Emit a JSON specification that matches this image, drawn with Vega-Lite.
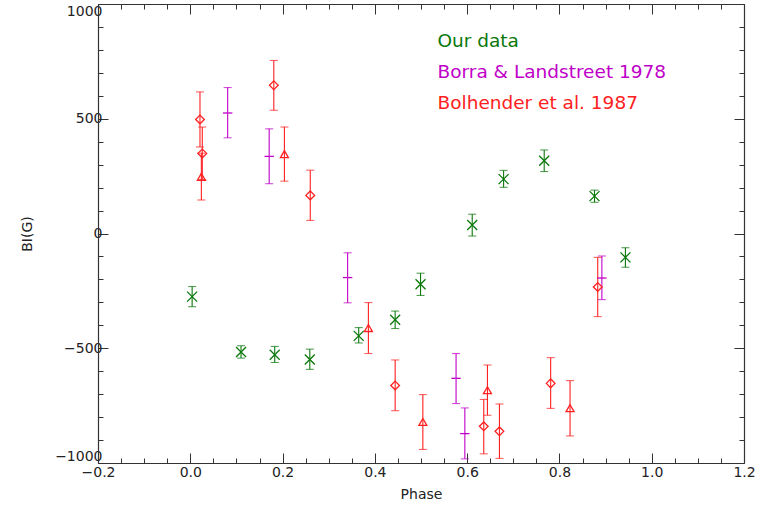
{
  "$schema": "https://vega.github.io/schema/vega-lite/v6.json",
  "width": 646,
  "height": 459,
  "autosize": {"type": "none"},
  "padding": {"left": 98, "top": 4, "right": 15, "bottom": 52},
  "background": "white",
  "config": {
    "view": {"stroke": null},
    "axis": {
      "grid": false,
      "domainColor": "#333333",
      "tickColor": "#333333",
      "labelColor": "#222222",
      "titleColor": "#222222",
      "labelFont": "DejaVu Sans",
      "titleFont": "DejaVu Sans",
      "labelFontSize": 14,
      "titleFontSize": 14,
      "titleFontWeight": "normal",
      "tickWidth": 1,
      "domainWidth": 1.2
    }
  },
  "data": {
    "values": [
      {"series": "Our data", "marker": "x", "phase": 0.004, "b": -275, "lo": -319, "hi": -231},
      {"series": "Our data", "marker": "x", "phase": 0.110, "b": -516, "lo": -543, "hi": -489},
      {"series": "Our data", "marker": "x", "phase": 0.183, "b": -528, "lo": -562, "hi": -492},
      {"series": "Our data", "marker": "x", "phase": 0.259, "b": -549, "lo": -592, "hi": -504},
      {"series": "Our data", "marker": "x", "phase": 0.365, "b": -446, "lo": -477, "hi": -410},
      {"series": "Our data", "marker": "x", "phase": 0.444, "b": -376, "lo": -414, "hi": -338},
      {"series": "Our data", "marker": "x", "phase": 0.499, "b": -221, "lo": -270, "hi": -173},
      {"series": "Our data", "marker": "x", "phase": 0.611, "b": 37, "lo": -11, "hi": 84},
      {"series": "Our data", "marker": "x", "phase": 0.679, "b": 237, "lo": 201, "hi": 275},
      {"series": "Our data", "marker": "x", "phase": 0.767, "b": 317, "lo": 270, "hi": 364},
      {"series": "Our data", "marker": "x", "phase": 0.876, "b": 163, "lo": 136, "hi": 189},
      {"series": "Our data", "marker": "x", "phase": 0.943, "b": -104, "lo": -147, "hi": -62},
      {"series": "Borra & Landstreet 1978", "marker": "plus", "phase": 0.081, "b": 525, "lo": 417, "hi": 636},
      {"series": "Borra & Landstreet 1978", "marker": "plus", "phase": 0.171, "b": 336, "lo": 217, "hi": 456},
      {"series": "Borra & Landstreet 1978", "marker": "plus", "phase": 0.341, "b": -192, "lo": -302, "hi": -84},
      {"series": "Borra & Landstreet 1978", "marker": "plus", "phase": 0.576, "b": -631, "lo": -741, "hi": -523},
      {"series": "Borra & Landstreet 1978", "marker": "plus", "phase": 0.595, "b": -872, "lo": -982, "hi": -760},
      {"series": "Borra & Landstreet 1978", "marker": "plus", "phase": 0.892, "b": -194, "lo": -288, "hi": -98},
      {"series": "Bolhender et al. 1987", "marker": "diamond", "phase": 0.021, "b": 497, "lo": 377, "hi": 617},
      {"series": "Bolhender et al. 1987", "marker": "diamond", "phase": 0.026, "b": 349, "lo": 235, "hi": 464},
      {"series": "Bolhender et al. 1987", "marker": "diamond", "phase": 0.181, "b": 646, "lo": 537, "hi": 754},
      {"series": "Bolhender et al. 1987", "marker": "diamond", "phase": 0.260, "b": 166, "lo": 57, "hi": 276},
      {"series": "Bolhender et al. 1987", "marker": "diamond", "phase": 0.444, "b": -662, "lo": -772, "hi": -551},
      {"series": "Bolhender et al. 1987", "marker": "diamond", "phase": 0.636, "b": -840, "lo": -960, "hi": -723},
      {"series": "Bolhender et al. 1987", "marker": "diamond", "phase": 0.670, "b": -862, "lo": -980, "hi": -743},
      {"series": "Bolhender et al. 1987", "marker": "diamond", "phase": 0.781, "b": -653, "lo": -762, "hi": -541},
      {"series": "Bolhender et al. 1987", "marker": "diamond", "phase": 0.883, "b": -233, "lo": -362, "hi": -104},
      {"series": "Bolhender et al. 1987", "marker": "triangle", "phase": 0.024, "b": 247, "lo": 146, "hi": 350},
      {"series": "Bolhender et al. 1987", "marker": "triangle", "phase": 0.204, "b": 346, "lo": 228, "hi": 464},
      {"series": "Bolhender et al. 1987", "marker": "triangle", "phase": 0.386, "b": -412, "lo": -523, "hi": -301},
      {"series": "Bolhender et al. 1987", "marker": "triangle", "phase": 0.504, "b": -821, "lo": -941, "hi": -702},
      {"series": "Bolhender et al. 1987", "marker": "triangle", "phase": 0.644, "b": -683, "lo": -792, "hi": -573},
      {"series": "Bolhender et al. 1987", "marker": "triangle", "phase": 0.823, "b": -761, "lo": -882, "hi": -641}
    ]
  },
  "resolve": {"axis": {"x": "independent", "y": "independent"}},
  "layer": [
    {
      "mark": {"type": "rule", "strokeWidth": 1.1},
      "encoding": {
        "x": {
          "field": "phase", "type": "quantitative",
          "scale": {"domain": [-0.2, 1.2], "nice": false, "zero": false},
          "axis": {"orient": "bottom", "values": [-0.2, 0, 0.2, 0.4, 0.6, 0.8, 1.0, 1.2], "format": ".1f", "tickSize": -10, "labelPadding": 12, "title": "Phase", "titlePadding": 8, "labelFlush": false}
        },
        "y": {
          "field": "lo", "type": "quantitative",
          "scale": {"domain": [-1000, 1000], "nice": false, "zero": false},
          "axis": {"orient": "left", "values": [-1000, -500, 0, 500, 1000], "format": "d", "tickSize": -10, "labelPadding": 6, "labelFlush": true, "title": "BI(G)", "titlePadding": 20}
        },
        "y2": {"field": "hi"},
        "color": {
          "field": "series", "type": "nominal",
          "scale": {"domain": ["Our data", "Borra & Landstreet 1978", "Bolhender et al. 1987"], "range": ["#0a780a", "#c000c8", "#ff2020"]},
          "legend": {
            "orient": "none",
            "legendX": 321,
            "legendY": 28,
            "title": null,
            "symbolSize": 0,
            "symbolOpacity": 0,
            "symbolStrokeWidth": 0,
            "labelOffset": 0,
            "labelLimit": 0,
            "labelFont": "DejaVu Sans",
            "labelFontSize": 18.5,
            "rowPadding": 12,
            "padding": 0,
            "encode": {"labels": {"update": {"fill": {"scale": "color", "field": "value"}}}}
          }
        }
      }
    },
    {
      "mark": {"type": "tick", "orient": "horizontal", "size": 8, "thickness": 1.1},
      "encoding": {
        "x": {
          "field": "phase", "type": "quantitative",
          "axis": {"orient": "bottom", "values": [-0.15, -0.1, -0.05, 0.05, 0.1, 0.15, 0.25, 0.3, 0.35, 0.45, 0.5, 0.55, 0.65, 0.7, 0.75, 0.85, 0.9, 0.95, 1.05, 1.1, 1.15], "tickSize": -5, "labels": false, "domain": false, "title": null}
        },
        "y": {
          "field": "lo", "type": "quantitative",
          "axis": {"orient": "left", "values": [-900, -800, -700, -600, -400, -300, -200, -100, 100, 200, 300, 400, 600, 700, 800, 900], "tickSize": -5, "labels": false, "domain": false, "title": null}
        },
        "color": {"field": "series", "type": "nominal"}
      }
    },
    {
      "mark": {"type": "tick", "orient": "horizontal", "size": 8, "thickness": 1.1},
      "encoding": {
        "x": {
          "field": "phase", "type": "quantitative",
          "axis": {"orient": "top", "values": [-0.2, 0, 0.2, 0.4, 0.6, 0.8, 1.0, 1.2], "tickSize": -10, "labels": false, "title": null}
        },
        "y": {
          "field": "hi", "type": "quantitative",
          "axis": {"orient": "right", "values": [-1000, -500, 0, 500, 1000], "tickSize": -10, "labels": false, "title": null}
        },
        "color": {"field": "series", "type": "nominal"}
      }
    },
    {
      "mark": {"type": "point", "filled": false, "strokeWidth": 1.3, "opacity": 1},
      "encoding": {
        "x": {
          "field": "phase", "type": "quantitative",
          "axis": {"orient": "top", "values": [-0.15, -0.1, -0.05, 0.05, 0.1, 0.15, 0.25, 0.3, 0.35, 0.45, 0.5, 0.55, 0.65, 0.7, 0.75, 0.85, 0.9, 0.95, 1.05, 1.1, 1.15], "tickSize": -5, "labels": false, "domain": false, "title": null}
        },
        "y": {
          "field": "b", "type": "quantitative",
          "axis": {"orient": "right", "values": [-900, -800, -700, -600, -400, -300, -200, -100, 100, 200, 300, 400, 600, 700, 800, 900], "tickSize": -5, "labels": false, "domain": false, "title": null}
        },
        "shape": {
          "field": "marker", "type": "nominal",
          "scale": {"domain": ["x", "plus", "diamond", "triangle"], "range": ["M-1,-1L1,1M-1,1L1,-1", "M-1,0L1,0", "diamond", "triangle-up"]},
          "legend": null
        },
        "size": {
          "field": "marker", "type": "nominal",
          "scale": {"domain": ["x", "plus", "diamond", "triangle"], "range": [100, 64, 120, 130]},
          "legend": null
        },
        "color": {"field": "series", "type": "nominal"}
      }
    }
  ]
}
